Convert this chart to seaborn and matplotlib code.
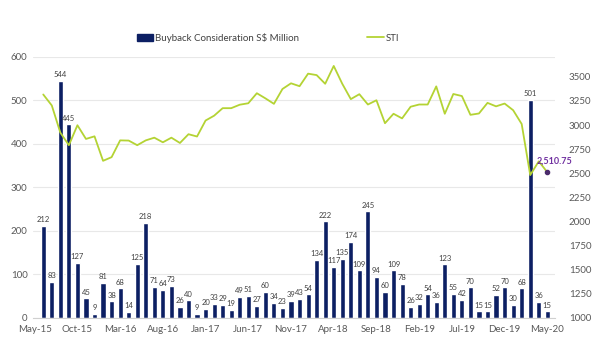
import matplotlib
matplotlib.use('Agg')
import matplotlib.pyplot as plt
from matplotlib.patches import Patch
from matplotlib.lines import Line2D
import seaborn as sns
import pandas as pd
import numpy as np

# monthly categories, May-15 .. May-20
months = pd.date_range('2015-05-01', '2020-05-01', freq='MS').strftime('%b-%y').tolist()

# buyback consideration S$ million (no bar for May-15)
buyback = [np.nan,
           212, 83, 544, 445, 127, 45, 9, 81,
           38, 68, 14, 125, 218, 71, 64, 73, 26, 40, 9, 20,
           33, 29, 19, 49, 51, 27, 60, 34, 23, 39, 43, 54,
           134, 222, 117, 135, 174, 109, 245, 94, 60, 109, 78, 26,
           32, 54, 36, 123, 55, 42, 70, 15, 15, 52, 70, 30,
           68, 501, 36, 15]

# STI month end
sti = [np.nan,
       3317, 3203, 2921, 2791, 2998, 2856, 2883,
       2629, 2667, 2841, 2839, 2791, 2841, 2869, 2821, 2869, 2814, 2905, 2881,
       3047, 3097, 3175, 3175, 3211, 3226, 3330, 3277, 3220, 3374, 3433, 3403,
       3533, 3518, 3428, 3613, 3428, 3269, 3320, 3213, 3257, 3019, 3117, 3069,
       3190, 3213, 3213, 3401, 3117, 3322, 3301, 3106, 3120, 3230, 3194, 3223,
       3154, 3011, 2481, 2624, 2510.75]

navy = '#0c1f63'
green = '#b4d334'
grey = '#595959'

df = pd.DataFrame({'month': months, 'buyback': buyback, 'sti': sti, 'pos': range(len(months))})

sns.set_style('white')
plt.rcParams['font.family'] = ['Lato', 'DejaVu Sans']

fig = plt.figure(figsize=(6, 3.6), dpi=100)
ax = fig.add_axes([0.055, 0.117, 0.87, 0.725])

sns.barplot(data=df, x='month', y='buyback', order=months, color=navy,
            width=0.6, saturation=1, ax=ax)
ax.bar_label(ax.containers[0], fmt='%.0f', padding=2, fontsize=5.5, color='#404040')

ax.set_ylim(0, 600)
ax.set_yticks(range(0, 601, 100))
ax.set_xlim(-0.2, 60.9)
ax.set_xticks(range(0, 61, 5))
ax.set_xticklabels(months[::5])
ax.set_xlabel('')
ax.set_ylabel('')
ax.grid(axis='y', color='#e8e8e8', linewidth=0.8)
ax.set_axisbelow(True)
for s in ['top', 'left', 'right']:
    ax.spines[s].set_visible(False)
ax.spines['bottom'].set_color('#d0d0d0')
ax.tick_params(axis='y', length=0, labelsize=7, labelcolor=grey, pad=4)
ax.tick_params(axis='x', length=3, color='#d0d0d0', labelsize=7, labelcolor=grey, pad=2)

ax2 = ax.twinx()
sns.lineplot(data=df, x='pos', y='sti', color=green, linewidth=1.3, ax=ax2)
ax2.set_ylim(1000, 3707)
ax2.set_yticks(range(1000, 3501, 250))
ax2.set_ylabel('')
ax2.set_xlabel('')
for s in ax2.spines.values():
    s.set_visible(False)
ax2.tick_params(axis='y', length=0, labelsize=7, labelcolor=grey, pad=10)

# last value marker
last = len(months) - 1
ax2.plot(last, sti[last], 'o', color='#4a2b6b', markersize=3)
ax2.annotate(f'{sti[last]:,.2f}', (last, sti[last]), xytext=(5, 6),
             textcoords='offset points', ha='center', fontsize=6.5,
             color='#7030a0', fontweight='bold')

handles = [Patch(color=navy), Line2D([0], [0], color=green, linewidth=1.3)]
fig.legend(handles, ['Buyback Consideration S$ Million', 'STI'], loc='center',
           bbox_to_anchor=(0.447, 0.895), ncol=2, frameon=False, fontsize=7,
           handlelength=1.7, handletextpad=0.2, columnspacing=7.0,
           labelcolor='#404040')

fig.savefig('out.png', dpi=100)
